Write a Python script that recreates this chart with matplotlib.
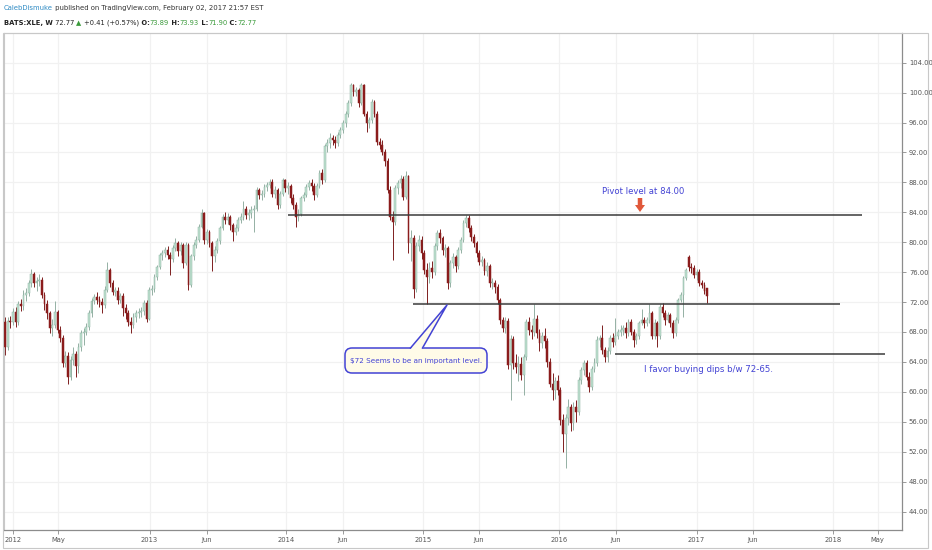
import matplotlib
matplotlib.use("Agg")
import matplotlib.pyplot as plt
import matplotlib.dates as mdates
from matplotlib import font_manager
from matplotlib.patches import FancyBboxPatch, Polygon, FancyArrow, Rectangle
from matplotlib.lines import Line2D
from matplotlib.transforms import IdentityTransform
import numpy as np
import pandas as pd

# weekly bars of BATS:XLE, first bar is the week of 2011-12-12
first_week = "2011-12-12"

closes = [66.0, 69.5, 69.3, 70.7, 69.4, 71.8, 71.5, 73.0, 73.2, 74.5,
          75.8, 74.6, 74.8, 75.0, 73.0, 71.8, 70.5, 68.5, 69.0, 70.7,
          68.3, 67.2, 63.8, 64.8, 62.0, 64.2, 65.0, 63.4, 66.0, 67.8,
          68.0, 68.7, 70.5, 72.1, 72.7, 72.3, 72.0, 71.6, 73.6, 76.3,
          74.5, 73.4, 73.5, 72.3, 72.8, 71.2, 70.5, 69.4, 69.0, 70.0,
          70.5, 70.7, 70.8, 71.9, 69.8, 73.6, 73.8, 75.4, 76.7, 78.3,
          78.5, 79.0, 78.3, 77.8, 79.2, 79.9, 78.8, 79.6, 77.2, 79.6,
          74.3, 78.1, 79.6, 80.3, 82.1, 83.9, 80.3, 81.4, 79.9, 78.1,
          79.0, 80.1, 81.9, 83.4, 83.0, 83.4, 82.3, 81.4, 81.9, 83.0,
          83.4, 84.5, 83.6, 83.9, 84.3, 84.5, 87.0, 86.3, 86.5, 87.4,
          87.7, 88.1, 86.5, 87.0, 85.0, 86.5, 88.3, 87.2, 87.5, 85.9,
          85.0, 83.4, 83.8, 85.9, 86.3, 87.4, 87.9, 87.5, 86.3, 87.5,
          89.2, 88.3, 92.8, 93.2, 93.9, 93.7, 93.2, 94.3, 95.0, 95.9,
          97.2, 98.6, 101.0, 100.1, 100.3, 98.6, 101.0, 97.2, 95.9, 96.3,
          98.8, 97.2, 93.4, 93.0, 92.1, 90.8, 87.0, 83.4, 82.7, 87.2,
          87.9, 88.5, 86.1, 88.8, 79.9, 80.5, 73.8, 79.5, 80.3, 78.5,
          76.3, 75.4, 76.5, 76.0, 79.5, 81.2, 80.5, 79.0, 79.2, 74.5,
          77.2, 78.0, 76.8, 79.0, 80.3, 82.6, 83.2, 81.9, 80.7, 79.9,
          78.5, 77.4, 77.6, 76.1, 76.8, 74.5, 74.5, 74.0, 72.3, 69.6,
          68.5, 69.5, 63.6, 67.0, 63.8, 63.3, 63.7, 62.3, 64.6, 69.3,
          68.3, 68.0, 69.8, 67.8, 66.5, 67.4, 66.8, 64.0, 61.1, 60.2,
          61.5, 60.3, 56.2, 54.4, 56.5, 58.0, 55.8, 58.0, 57.3, 61.6,
          62.9, 63.8, 62.0, 60.7, 63.0, 63.8, 66.9, 67.2, 65.6, 64.7,
          65.5, 67.2, 66.7, 67.5, 68.0, 68.3, 68.5, 67.8, 69.4, 68.0,
          66.9, 67.4, 69.2, 69.6, 69.2, 69.6, 70.5, 67.4, 69.2, 67.4,
          71.4, 70.5, 69.6, 70.3, 69.2, 67.8, 69.6, 72.3, 72.9, 75.2,
          76.3, 76.7, 76.5, 75.6, 76.0, 74.5, 74.3, 73.5, 72.77]

opens = [69.4, 66.0, 69.5, 69.3, 70.7, 69.4, 71.8, 71.5, 73.0, 73.2,
         74.5, 75.8, 74.6, 74.8, 75.0, 73.0, 71.8, 70.5, 68.5, 69.0,
         70.7, 68.3, 67.2, 63.8, 64.8, 62.0, 64.2, 65.0, 63.4, 66.0,
         67.8, 68.0, 68.7, 70.5, 72.1, 72.7, 72.3, 72.0, 71.6, 73.6,
         76.3, 74.5, 73.4, 73.5, 72.3, 72.8, 71.2, 70.5, 69.4, 69.0,
         70.0, 70.5, 70.7, 70.8, 71.9, 69.8, 73.6, 73.8, 75.4, 76.7,
         78.3, 78.5, 79.0, 78.3, 77.8, 79.2, 79.9, 78.8, 79.6, 77.2,
         79.6, 74.3, 78.1, 79.6, 80.3, 82.1, 83.9, 80.3, 81.4, 79.9,
         78.1, 79.0, 80.1, 81.9, 83.4, 83.0, 83.4, 82.3, 81.4, 81.9,
         83.0, 83.4, 84.5, 83.6, 83.9, 84.3, 84.5, 87.0, 86.3, 86.5,
         87.4, 87.7, 88.1, 86.5, 87.0, 85.0, 86.5, 88.3, 87.2, 87.5,
         85.9, 85.0, 83.4, 83.8, 85.9, 86.3, 87.4, 87.9, 87.5, 86.3,
         87.5, 89.2, 88.3, 92.8, 93.2, 93.9, 93.7, 93.2, 94.3, 95.0,
         95.9, 97.2, 98.6, 101.0, 100.1, 100.3, 98.6, 101.0, 97.2, 95.9,
         96.3, 98.8, 97.2, 93.4, 93.0, 92.1, 90.8, 87.0, 83.4, 82.7,
         87.2, 87.9, 88.5, 86.1, 88.8, 79.9, 80.5, 73.8, 79.5, 80.3,
         78.5, 76.3, 75.4, 76.5, 76.0, 79.5, 81.2, 80.5, 79.0, 79.2,
         74.5, 77.2, 78.0, 76.8, 79.0, 80.3, 82.6, 83.2, 81.9, 80.7,
         79.9, 78.5, 77.4, 77.6, 76.1, 76.8, 74.5, 74.5, 74.0, 72.3,
         69.6, 68.5, 69.5, 63.6, 67.0, 63.8, 63.3, 63.7, 62.3, 64.6,
         69.3, 68.3, 68.0, 69.8, 67.8, 66.5, 67.4, 66.8, 64.0, 61.1,
         60.2, 61.5, 60.3, 56.2, 54.4, 56.5, 58.0, 55.8, 58.0, 57.3,
         61.6, 62.9, 63.8, 62.0, 60.7, 63.0, 63.8, 66.9, 67.2, 65.6,
         64.7, 65.5, 67.2, 66.7, 67.5, 68.0, 68.3, 68.5, 67.8, 69.4,
         68.0, 66.9, 67.4, 69.2, 69.6, 69.2, 69.6, 70.5, 67.4, 69.2,
         67.4, 71.4, 70.5, 69.6, 70.3, 69.2, 67.8, 69.6, 72.3, 72.9,
         75.2, 78.0, 76.7, 76.5, 75.6, 76.0, 74.5, 74.3, 73.89]

highs = [70.0, 70.0, 70.2, 71.2, 71.3, 72.2, 72.4, 73.6, 73.9, 75.0,
         76.4, 76.0, 75.4, 75.7, 75.3, 73.4, 72.3, 70.8, 69.8, 72.2,
         71.0, 68.8, 67.6, 65.5, 65.3, 64.8, 66.0, 65.5, 66.5, 68.2,
         68.6, 69.2, 70.9, 72.5, 73.1, 73.3, 72.8, 72.5, 74.1, 77.3,
         76.6, 75.0, 74.0, 74.0, 73.2, 73.2, 71.7, 70.9, 70.0, 70.5,
         71.0, 71.2, 71.4, 72.3, 72.3, 74.0, 74.3, 75.8, 77.0, 78.6,
         79.0, 79.4, 79.5, 78.7, 79.6, 80.6, 80.2, 80.0, 79.9, 80.0,
         79.9, 78.4, 80.0, 80.8, 82.4, 84.5, 84.0, 81.8, 81.7, 80.2,
         79.5, 80.5, 82.2, 83.8, 84.0, 83.9, 83.7, 82.6, 82.5, 83.4,
         83.9, 85.5, 84.8, 84.5, 84.8, 85.0, 87.4, 87.3, 87.0, 87.8,
         88.1, 88.5, 88.5, 87.5, 87.3, 86.9, 88.6, 88.5, 88.0, 87.8,
         86.5, 85.4, 84.5, 86.2, 86.7, 87.8, 88.3, 88.4, 87.9, 87.9,
         89.6, 89.8, 93.1, 93.8, 94.6, 94.4, 94.2, 94.7, 95.4, 96.3,
         97.6, 99.0, 101.3, 101.1, 100.8, 100.6, 101.3, 101.1, 97.6, 96.8,
         99.2, 99.0, 97.5, 94.0, 93.6, 92.5, 91.2, 87.5, 84.2, 87.6,
         88.3, 89.0, 88.9, 89.5, 89.0, 81.6, 81.0, 80.0, 81.0, 80.8,
         79.0, 77.2, 77.3, 77.5, 79.9, 81.6, 81.8, 80.8, 79.8, 79.5,
         77.6, 78.5, 78.3, 79.4, 80.7, 83.0, 83.7, 83.6, 82.3, 81.1,
         80.2, 78.9, 78.2, 77.9, 77.4, 77.1, 75.2, 75.0, 74.4, 72.6,
         70.0, 70.0, 69.9, 67.6, 67.4, 65.0, 64.8, 64.6, 65.0, 69.8,
         70.0, 68.9, 71.8, 70.3, 68.4, 68.0, 68.5, 67.2, 64.5, 62.5,
         62.0, 62.2, 60.6, 57.0, 57.0, 59.0, 58.4, 58.6, 58.9, 62.0,
         63.3, 64.2, 64.3, 62.6, 63.4, 64.5, 67.4, 67.6, 68.9, 66.0,
         66.0, 67.6, 67.8, 69.9, 68.4, 68.9, 69.0, 69.3, 69.8, 69.8,
         68.4, 67.8, 69.5, 71.1, 70.0, 70.0, 71.8, 70.8, 69.7, 69.5,
         71.8, 71.9, 70.9, 70.7, 70.6, 69.6, 70.0, 72.6, 73.3, 75.5,
         76.6, 78.3, 77.2, 76.9, 76.4, 76.4, 74.9, 74.7, 73.93]

lows = [64.9, 65.6, 68.6, 68.9, 68.7, 69.0, 70.8, 71.0, 72.2, 72.8,
        74.0, 74.0, 73.5, 74.2, 72.5, 71.0, 69.8, 67.9, 67.5, 68.6,
        67.9, 66.6, 63.3, 63.3, 61.1, 61.6, 63.6, 62.0, 62.5, 65.5,
        66.3, 67.6, 68.3, 70.0, 71.8, 71.7, 71.4, 70.5, 71.2, 73.4,
        74.0, 72.9, 72.8, 71.8, 71.9, 70.2, 69.8, 68.8, 67.8, 68.5,
        69.3, 69.9, 70.0, 70.3, 69.4, 69.6, 72.9, 73.4, 75.0, 76.4,
        77.6, 78.0, 77.8, 75.6, 77.3, 78.8, 78.2, 78.3, 76.6, 77.0,
        73.6, 74.0, 77.6, 79.2, 80.0, 81.9, 79.8, 79.8, 79.3, 76.1,
        77.4, 78.6, 79.8, 81.6, 82.4, 82.5, 81.6, 80.1, 80.9, 81.5,
        82.6, 83.0, 83.1, 83.0, 83.2, 81.4, 84.2, 85.8, 85.6, 86.0,
        86.8, 87.2, 86.0, 85.9, 84.5, 84.6, 86.2, 86.7, 86.4, 85.3,
        84.5, 82.1, 82.8, 83.5, 85.5, 86.0, 87.0, 86.9, 85.7, 86.0,
        87.2, 87.8, 88.0, 92.0, 92.6, 93.0, 92.6, 92.8, 93.9, 94.6,
        95.4, 96.8, 98.2, 99.6, 99.6, 98.1, 98.4, 96.9, 94.8, 95.3,
        96.0, 96.7, 93.0, 92.4, 91.6, 90.2, 86.6, 83.0, 77.6, 82.3,
        86.5, 87.2, 85.6, 85.8, 78.6, 77.5, 72.5, 73.3, 78.8, 77.8,
        75.8, 71.8, 74.6, 75.2, 75.6, 78.9, 79.9, 78.3, 78.0, 73.8,
        74.0, 76.6, 76.0, 76.4, 78.5, 80.0, 82.1, 81.4, 80.2, 79.3,
        78.0, 76.9, 76.8, 75.6, 75.5, 74.0, 73.8, 73.2, 71.8, 69.1,
        68.0, 67.9, 63.0, 58.9, 63.0, 62.5, 61.5, 61.6, 59.6, 64.2,
        67.6, 67.1, 67.4, 67.2, 65.5, 65.9, 65.9, 63.3, 60.6, 58.9,
        59.0, 59.6, 55.6, 52.0, 49.8, 55.6, 54.8, 54.9, 56.0, 56.9,
        61.0, 62.3, 61.6, 60.0, 60.2, 62.6, 63.4, 66.0, 65.0, 64.0,
        64.0, 65.1, 66.0, 66.2, 67.0, 67.5, 67.6, 67.2, 67.4, 67.6,
        66.0, 66.4, 67.0, 69.0, 68.6, 68.8, 69.2, 67.0, 67.0, 66.0,
        67.0, 70.0, 69.0, 69.3, 68.7, 67.2, 67.4, 69.2, 72.0, 70.0,
        74.9, 76.2, 75.9, 75.2, 75.0, 74.2, 73.9, 73.1, 71.90]

# time axis labels
tick_dates = ["2012-01-02", "2012-05-01", "2013-01-01", "2013-06-03",
              "2014-01-01", "2014-06-02", "2015-01-01", "2015-06-01",
              "2016-01-01", "2016-06-01", "2017-01-02", "2017-06-01",
              "2018-01-01", "2018-05-01"]
tick_labels = ["2012", "May", "2013", "Jun", "2014", "Jun", "2015", "Jun",
               "2016", "Jun", "2017", "Jun", "2018", "May"]
price_ticks = [44, 48, 52, 56, 60, 64, 68, 72, 76, 80, 84, 88, 92, 96, 100, 104]

# drawn horizontal levels
level_prices = [83.6, 71.8, 65.1]
level_from = ["2014-01-06", "2014-12-06", "2016-05-29"]
level_to = ["2018-03-19", "2018-01-20", "2018-05-20"]

assert len(closes) == len(opens) == len(highs) == len(lows)

W, H = 932, 550
names = {f.name for f in font_manager.fontManager.ttflist}
if "Liberation Sans Narrow" in names:
    fam = ["Liberation Sans Narrow", "DejaVu Sans"]
    k = 1.0
else:
    fam = ["DejaVu Sans"]
    k = 0.78

UP, UP_EDGE, DOWN = "#bfe2d1", "#8fb3a3", "#8b1c1c"
BLUE = "#4343d4"

fig = plt.figure(figsize=(W / 100, H / 100), dpi=100)
fig.patch.set_facecolor("white")
ax = fig.add_axes([4 / W, 20 / H, (902 - 4) / W, (530 - 33) / H])

dates = pd.date_range(first_week, periods=len(closes), freq="7D")
x = mdates.date2num(dates.to_pydatetime())
o = np.array(opens)
c = np.array(closes)
hi = np.array(highs)
lo = np.array(lows)
up = c >= o

# grid
for d in tick_dates:
    ax.axvline(mdates.datestr2num(d), color="#f1f1f1", lw=0.9, zorder=0)
for p in price_ticks:
    ax.axhline(p, color="#f1f1f1", lw=0.9, zorder=0)

# wicks
ax.vlines(x[up], lo[up], hi[up], color="#94b0a4", lw=0.7, zorder=2)
ax.vlines(x[~up], lo[~up], hi[~up], color="#7d1f1f", lw=0.7, zorder=2)

# bodies
body_lo = np.minimum(o, c)
body_h = np.maximum(np.abs(c - o), 0.15)
ax.bar(x[up], body_h[up], bottom=body_lo[up], width=4.8, color=UP,
       edgecolor=UP_EDGE, linewidth=0.35, zorder=3)
ax.bar(x[~up], body_h[~up], bottom=body_lo[~up], width=4.8, color=DOWN,
       edgecolor=DOWN, linewidth=0.35, zorder=3)

# levels
ax.hlines(level_prices, mdates.datestr2num(level_from), mdates.datestr2num(level_to),
          colors="#3a3a3a", lw=1.1, zorder=4)

ax.set_xlim(mdates.datestr2num("2011-12-09"), mdates.datestr2num("2018-07-05"))
ax.set_ylim(41.53, 107.97)

ax.yaxis.tick_right()
ax.set_yticks(price_ticks)
ax.set_yticklabels([f"{p:.2f}" for p in price_ticks])
ax.set_xticks([mdates.datestr2num(d) for d in tick_dates])
ax.set_xticklabels(tick_labels)
ax.tick_params(axis="both", colors="#8a8a8a", labelcolor="#555555", length=3,
               width=0.6, labelsize=6.2 * k, pad=2)
for lab in ax.get_xticklabels() + ax.get_yticklabels():
    lab.set_family(fam)
for side in ["left", "top"]:
    ax.spines[side].set_color("#c8c8c8")
    ax.spines[side].set_linewidth(0.8)
for side in ["right", "bottom"]:
    ax.spines[side].set_color("#8c8c8c")
    ax.spines[side].set_linewidth(0.9)

# outer frame around chart + price scale
fig.add_artist(Rectangle((3, H - 548), 925, 515, transform=IdentityTransform(),
                         fill=False, edgecolor="#c8c8c8", lw=0.8))

# header lines
renderer = fig.canvas.get_renderer()


def put_line(parts, x0, y0, size):
    xx = x0
    for s, col, wt in parts:
        t = fig.text(xx / W, 1 - y0 / H, s, color=col, fontsize=size * k,
                     fontweight=wt, family=fam, va="center", ha="left")
        xx += t.get_window_extent(renderer).width


GREEN = "#3a9a3a"
put_line([("CalebDismuke", "#2f8bc4", "normal"),
          (" published on TradingView.com, February 02, 2017 21:57 EST", "#333333", "normal")],
         4, 8, 6.4)
put_line([("BATS:XLE, W", "#222222", "bold"),
          (" 72.77 ", "#222222", "normal"),
          ("\u25b2", GREEN, "normal"),
          (" +0.41 (+0.57%)", "#222222", "normal"),
          (" O:", "#222222", "bold"), ("73.89", GREEN, "normal"),
          (" H:", "#222222", "bold"), ("73.93", GREEN, "normal"),
          (" L:", "#222222", "bold"), ("71.90", GREEN, "normal"),
          (" C:", "#222222", "bold"), ("72.77", GREEN, "normal")],
         4, 23, 6.2)

# pivot annotation with red arrow
fig.text(643 / W, 1 - 192 / H, "Pivot level at 84.00", color=BLUE,
         fontsize=7.8 * k, family=fam, ha="center", va="center")
fig.add_artist(FancyArrow(640, H - 198, 0, -14, width=4.5, head_width=10,
                          head_length=7, length_includes_head=True,
                          transform=IdentityTransform(), color="#e0583a", lw=0))

# callout box for $72
fig.add_artist(FancyBboxPatch((345, H - 373), 142, 25,
                              boxstyle="round,pad=0,rounding_size=7",
                              transform=IdentityTransform(), facecolor="#fffbe8",
                              edgecolor=BLUE, lw=1.1))
fig.add_artist(Polygon([(410.5, H - 349), (447, H - 305), (422.5, H - 349)],
                       closed=True, transform=IdentityTransform(),
                       facecolor="#fffbe8", edgecolor="none"))
fig.add_artist(Line2D([410.5, 447, 422.5], [H - 348, H - 305, H - 348],
                      transform=IdentityTransform(), color=BLUE, lw=1.1))
fig.text(416 / W, 1 - 361 / H, "$72 Seems to be an important level.", color=BLUE,
         fontsize=6.7 * k, family=fam, ha="center", va="center")

fig.text(644 / W, 1 - 369 / H, "I favor buying dips b/w 72-65.", color=BLUE,
         fontsize=8.0 * k, family=fam, ha="left", va="center")

fig.savefig("out.png", dpi=100)
